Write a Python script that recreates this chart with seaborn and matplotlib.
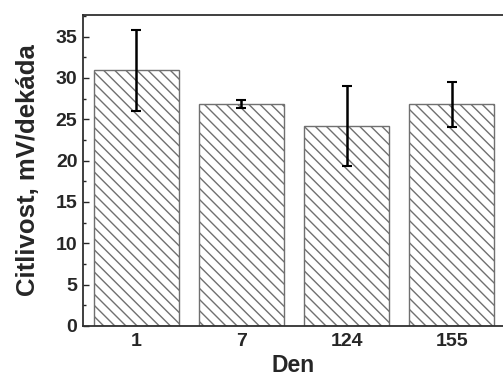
import numpy as np
import pandas as pd
import matplotlib
matplotlib.use("Agg")
import matplotlib.pyplot as plt
import seaborn as sns

# --- Data ---
days = ["1", "7", "124", "155"]
sensitivity = [30.9, 26.8, 24.2, 26.8]
sens_err = [4.9, 0.5, 4.8, 2.7]

df = pd.DataFrame({"Den": days, "Citlivost": sensitivity})

sns.set_style("ticks")
plt.rcParams["font.family"] = ["Liberation Sans", "DejaVu Sans"]
plt.rcParams["font.weight"] = "bold"
plt.rcParams["hatch.color"] = "#8a8a8a"
plt.rcParams["hatch.linewidth"] = 1.0

fig = plt.figure(figsize=(5.03, 3.76), dpi=100)
ax = fig.add_axes([0.165, 0.133, 0.835, 0.827])

sns.barplot(data=df, x="Den", y="Citlivost", color="white", width=0.81,
            edgecolor="#707070", linewidth=1.0, errorbar=None, ax=ax)
for bar in ax.patches:
    bar.set_hatch("\\\\\\")

x_pos = np.arange(len(days))
ax.errorbar(x_pos, sensitivity, yerr=sens_err, fmt="none", ecolor="black",
            elinewidth=1.8, capsize=3.5, capthick=1.5)

ax.set_xlim(-0.505, 3.486)
ax.set_ylim(0, 37.6)
ax.set_yticks([0, 5, 10, 15, 20, 25, 30, 35])
ax.set_yticks(np.arange(2.5, 37.6, 5), minor=True)
ax.tick_params(axis="y", which="major", direction="in", length=4, width=1,
               labelsize=14, pad=4)
ax.tick_params(axis="y", which="minor", direction="in", length=2, width=1)
ax.tick_params(axis="x", length=0, labelsize=14, pad=5)

ax.set_xlabel("Den", fontsize=16.5, fontweight="bold", labelpad=3)
ax.set_ylabel("Citlivost, mV/dekáda", fontsize=18.5, fontweight="bold", labelpad=11)

for side in ["left", "bottom", "top"]:
    ax.spines[side].set_linewidth(1.3)
    ax.spines[side].set_color("#303030")
ax.spines["right"].set_visible(False)

fig.savefig("out.png", dpi=100)
